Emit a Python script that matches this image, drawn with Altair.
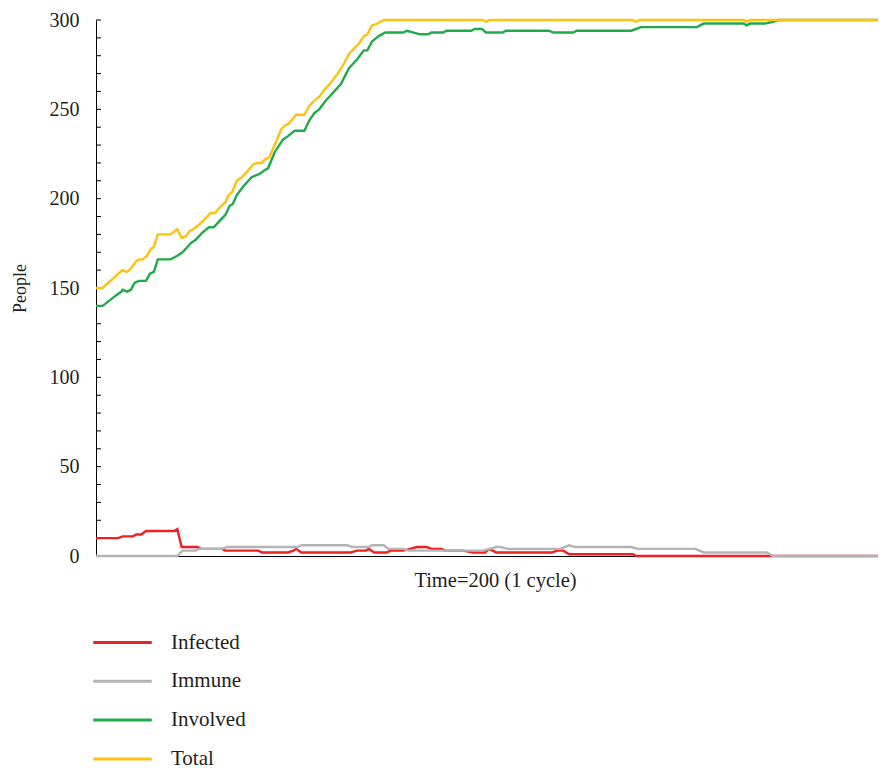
import altair as alt
import pandas as pd

SERIES = ["Infected", "Immune", "Involved", "Total"]
COLORS = ["#ED2024", "#B4B4B4", "#20AA4A", "#FFC20E"]

infected_t = [0, 5.6, 6.9, 9.4, 10.3, 11.6, 12.8, 20.0, 20.8, 21.9, 26.0, 26.8, 32.2, 33.0, 41.5, 42.4,
              49.1, 50.5, 51.2, 52.5, 65.1, 66.8, 69.0, 69.8, 71.1, 74.4, 75.3, 78.6, 80.3, 82.0, 84.6,
              85.8, 88.4, 89.2, 93.9, 96.4, 99.5, 100.6, 102.3, 116.6, 118.0, 119.5, 121.0, 137.3, 138.2, 200]
infected_v = [10, 10, 11, 11, 12, 12, 14, 14, 15, 5, 5, 4, 4, 3, 3, 2,
              2, 3, 4, 2, 2, 3, 3, 4, 2, 2, 3, 3, 4, 5, 5,
              4, 4, 3, 3, 2, 2, 4, 2, 2, 3, 3, 1, 1, 0, 0]

immune_t = [0, 20.8, 22.1, 25.5, 26.3, 32.2, 33.5, 51.6, 52.5, 64.3, 65.6, 69.8, 70.6, 73.6, 74.8, 78.6,
            79.9, 99.0, 102.5, 103.5, 105.2, 118.7, 121.0, 122.5, 136.9, 138.6, 153.3, 155.4, 171.5, 173.2, 200]
immune_v = [0, 0, 3, 3, 4, 4, 5, 5, 6, 6, 5, 5, 6, 6, 4, 4,
            3, 3, 5, 5, 4, 4, 6, 5, 5, 4, 4, 2, 2, 0, 0]

involved_t = [0, 1.7, 5.2, 6.5, 6.8, 8.0, 8.9, 9.9, 11.0, 12.8, 13.8, 14.8, 15.8, 19.1, 20.8, 22.1,
              23.0, 24.2, 25.5, 27.2, 28.9, 30.1, 31.8, 33.1, 34.2, 35.0, 36.0, 37.7, 39.8, 41.9, 43.2,
              44.0, 45.7, 47.8, 49.1, 50.8, 53.3, 54.6, 55.9, 57.1, 58.8, 60.9, 62.6, 64.7, 66.8, 68.5,
              69.4, 70.6, 72.3, 74.0, 78.6, 79.5, 82.9, 85.0, 85.8, 88.8, 89.6, 96.0, 96.8, 98.7, 99.7,
              104.0, 104.8, 115.8, 117.0, 122.1, 122.9, 136.9, 139.4, 153.7, 155.4, 165.6, 166.4, 167.3,
              171.0, 173.2, 174.5, 200]
involved_v = [140, 140, 146, 148, 149, 148, 149, 153, 154, 154, 158, 159, 166, 166, 168, 170,
              172, 175, 177, 181, 184, 184, 188, 191, 196, 197, 202, 207, 212, 214, 216,
              217, 226, 233, 235, 238, 238, 244, 248, 250, 255, 260, 264, 273, 278, 283,
              283, 288, 291, 293, 293, 294, 292, 292, 293, 293, 294, 294, 295, 295, 293,
              293, 294, 294, 293, 293, 294, 294, 296, 296, 298, 298, 297, 298,
              298, 299, 300, 300]

total_t = [0, 1.7, 6.7, 7.8, 8.6, 10.3, 11.0, 12.0, 13.0, 14.1, 14.8, 15.8, 19.1, 20.8, 21.9, 23.0,
           24.0, 25.0, 26.7, 28.4, 29.3, 30.4, 31.6, 33.1, 33.9, 34.9, 36.0, 37.3, 38.6, 40.1, 41.1,
           42.4, 43.2, 44.3, 45.7, 47.4, 48.4, 49.3, 51.2, 53.3, 54.6, 55.9, 57.1, 58.4, 60.1, 61.8,
           63.0, 64.7, 66.0, 67.3, 68.5, 69.4, 70.6, 71.9, 73.6, 99.0, 99.8, 100.6, 137.2, 138.1, 139.0,
           165.6, 166.4, 167.2, 200]
total_v = [150, 150, 160, 159, 160, 165, 166, 166, 168, 172, 173, 180, 180, 183, 178, 179,
           182, 183, 186, 190, 192, 192, 195, 198, 202, 204, 210, 212, 215, 219, 220,
           220, 222, 223, 230, 239, 241, 242, 247, 247, 252, 255, 257, 261, 265, 270,
           274, 281, 284, 287, 291, 292, 297, 298, 300, 300, 299, 300, 300, 299, 300,
           300, 299, 300, 300]

Y_TICKS = list(range(0, 301, 10))
Y_LABELS = [0, 50, 100, 150, 200, 250, 300]

rows = []
for name, ts, vs in [("Infected", infected_t, infected_v), ("Immune", immune_t, immune_v),
                     ("Involved", involved_t, involved_v), ("Total", total_t, total_v)]:
    assert len(ts) == len(vs), name
    for t, v in zip(ts, vs):
        rows.append({"series": name, "time": t, "people": v})
df = pd.DataFrame(rows)

FONT = "Liberation Serif"
TXT = "#231f20"

color = alt.Color(
    "series:N",
    scale=alt.Scale(domain=SERIES, range=COLORS),
    legend=alt.Legend(
        title=None, orient="none", legendX=15, legendY=611, direction="vertical",
        symbolType="M-3,0H3", symbolSize=380, symbolStrokeWidth=3,
        labelFont=FONT, labelFontSize=21, labelColor=TXT, labelOffset=37,
        rowPadding=16.8, padding=0,
    ),
)
x = alt.X("time:Q", scale=alt.Scale(domain=[0, 200], nice=False),
          axis=alt.Axis(title="Time=200 (1 cycle)", labels=False, ticks=False, grid=False,
                        domainColor="black", titleFont=FONT, titleFontSize=20.5,
                        titleFontWeight="normal", titleColor=TXT, titlePadding=14, titleX=399))
y = alt.Y("people:Q", scale=alt.Scale(domain=[0, 300], nice=False),
          axis=alt.Axis(title="People", values=Y_LABELS, ticks=False, grid=False,
                        domainColor="black", labelFont=FONT, labelFontSize=20, labelColor=TXT,
                        labelPadding=17, titleFont=FONT, titleFontSize=18,
                        titleFontWeight="normal", titleColor=TXT, titlePadding=20))

tick_layer = alt.Chart(pd.DataFrame({"people": Y_TICKS})).mark_rule(
    color="black", strokeWidth=1).encode(y=y, x=alt.value(0), x2=alt.value(5))

layers = [tick_layer]
for name in SERIES:
    layers.append(
        alt.Chart(df).transform_filter(alt.datum.series == name)
        .mark_line(strokeWidth=2.4)
        .encode(x=x, y=y, color=color)
    )

chart = alt.layer(*layers).properties(
    width=782, height=536,
    autosize=alt.AutoSizeParams(type="none"),
    padding={"left": 88, "top": 12, "right": 0, "bottom": 216},
).configure_view(stroke=None)

chart.save("out.html", embed_options={"renderer": "svg", "actions": False})
